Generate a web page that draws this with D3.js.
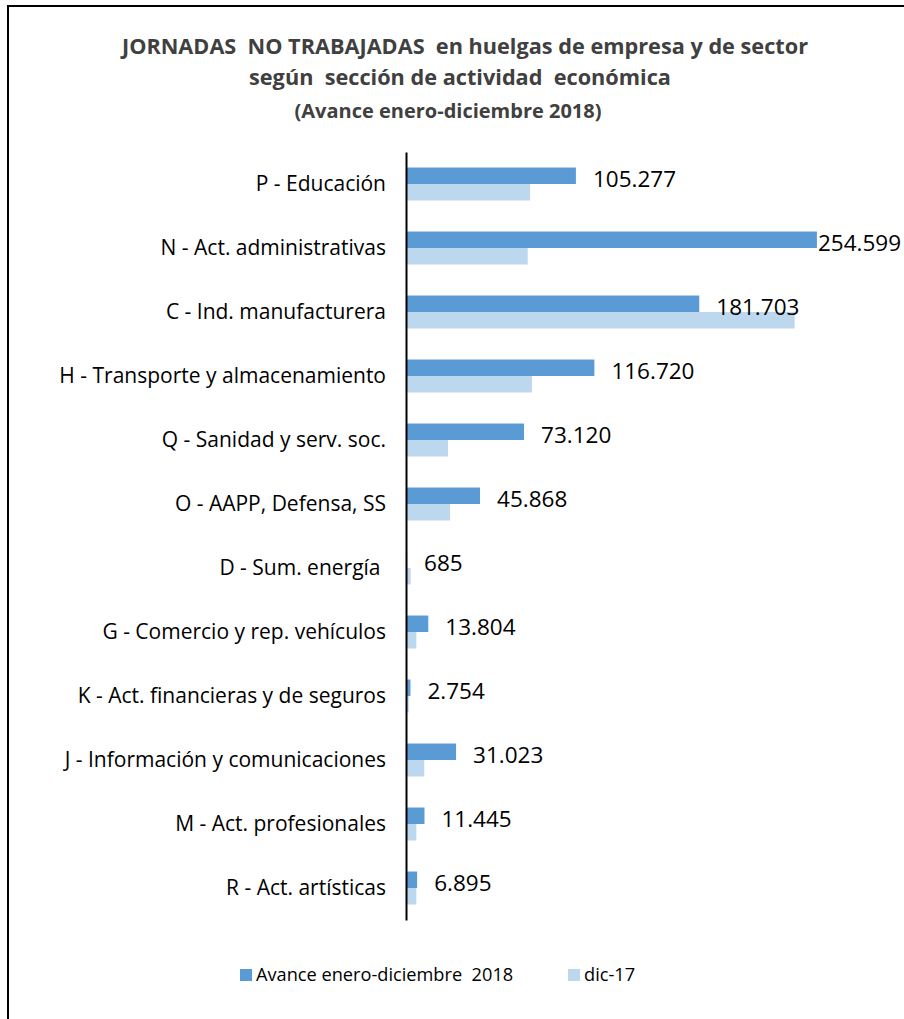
<!DOCTYPE html>
<html>
<head>
<meta charset="utf-8">
<script src="https://cdn.jsdelivr.net/npm/d3@7"></script>
<style>
  body { margin: 0; background: #fff; }
  svg { display: block; }
  text { font-family: "Open Sans", sans-serif; white-space: pre; }
</style>
</head>
<body>
<svg width="904" height="1019"></svg>
<script>
var categories = [
  "P - Educación",
  "N - Act. administrativas",
  "C - Ind. manufacturera",
  "H - Transporte y almacenamiento",
  "Q - Sanidad y serv. soc.",
  "O - AAPP, Defensa, SS",
  "D - Sum. energía ",
  "G - Comercio y rep. vehículos",
  "K - Act. financieras y de seguros",
  "J - Información y comunicaciones",
  "M - Act. profesionales",
  "R - Act. artísticas"
];
var avance2018 = [105277, 254599, 181703, 116720, 73120, 45868, 685, 13804, 2754, 31023, 11445, 6895];
var dic17 = [76900, 75400, 240800, 78000, 26000, 27300, 2900, 6400, 1700, 11300, 6400, 6400];
var seriesNames = ["Avance enero-diciembre  2018", "dic-17"];
var colors = ["#5b9bd5", "#bdd7ee"];
var titleLines = [
  "JORNADAS  NO TRABAJADAS  en huelgas de empresa y de sector",
  "según  sección de actividad  económica",
  "(Avance enero-diciembre 2018)"
];

var svg = d3.select("svg");

// outer frame (right / bottom edges fall outside the picture)
svg.append("rect")
    .attr("x", 8).attr("y", 6)
    .attr("width", 920).attr("height", 1040)
    .attr("fill", "none").attr("stroke", "#000").attr("stroke-width", 2);

// title
var tsizes = [21.7, 21.7, 20];
var tx = [465, 460, 448];
var ty = [54, 85, 118];
titleLines.forEach((t, i) => {
  svg.append("text")
      .attr("x", tx[i]).attr("y", ty[i])
      .attr("text-anchor", "middle")
      .attr("font-weight", "bold")
      .attr("font-size", tsizes[i])
      .attr("fill", "#404040")
      .text(t);
});

var x = d3.scaleLinear().domain([0, 100000]).range([406, 406 + 161.4]);
var y = d3.scaleBand().domain(categories).range([152, 920]).paddingInner(0.485).paddingOuter(0.2425);
var ys = d3.scaleBand().domain([0, 1]).range([0, y.bandwidth()]);

var rows = categories.map((c, i) => ({cat: c, vals: [avance2018[i], dic17[i]]}));

var g = svg.append("g");
var grp = g.selectAll("g.row").data(rows).enter().append("g")
    .attr("class", "row")
    .attr("transform", d => "translate(0," + y(d.cat) + ")");

grp.selectAll("rect").data(d => d.vals).enter().append("rect")
    .attr("x", x(0))
    .attr("y", (d, i) => ys(i))
    .attr("width", d => x(d) - x(0))
    .attr("height", ys.bandwidth())
    .attr("fill", (d, i) => colors[i]);

// value labels for 2018 (pulled in to the bar end when there is no room, as in the original)
grp.append("text")
    .attr("x", d => x(d.vals[0]) + 17 + 85 > 904 ? x(d.vals[0]) + 1 : x(d.vals[0]) + 17)
    .attr("y", ys(0) + ys.bandwidth() / 2 + 3)
    .attr("dy", "0.35em")
    .attr("font-size", 22.5)
    .attr("fill", "#000")
    .text(d => d3.format(",")(d.vals[0]).replace(/,/g, "."));

// category axis
var yAxis = d3.axisLeft(y).tickSize(0).tickPadding(20);
var ax = svg.append("g").attr("transform", "translate(" + x(0) + ",0)").call(yAxis);
ax.select(".domain").attr("stroke", "#000").attr("stroke-width", 2);
ax.selectAll("text")
    .attr("font-size", 21)
    .attr("font-family", "Open Sans, sans-serif")
    .attr("fill", "#000");

// legend
var lg = svg.append("g");
var lx = [240, 568];
seriesNames.forEach((s, i) => {
  lg.append("rect").attr("x", lx[i]).attr("y", 969)
      .attr("width", 12).attr("height", 12).attr("fill", colors[i]);
  lg.append("text").attr("x", lx[i] + 16).attr("y", 975)
      .attr("dy", "0.35em").attr("font-size", 18.2).attr("fill", "#000")
      .text(s);
});
</script>
</body>
</html>
